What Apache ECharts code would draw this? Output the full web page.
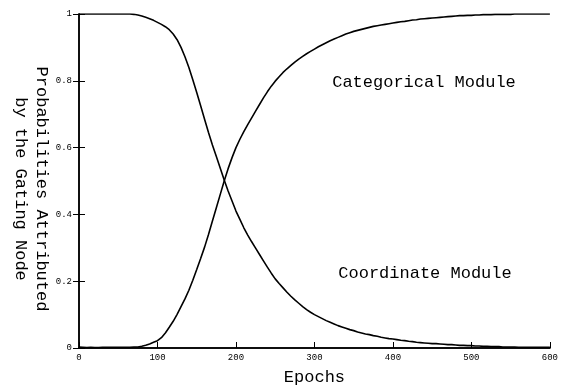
<!DOCTYPE html>
<html>
<head>
<meta charset="utf-8">
<script src="https://cdn.jsdelivr.net/npm/echarts@6/dist/echarts.min.js"></script>
<style>
  html, body { margin: 0; padding: 0; background: #fff; }
  #chart { width: 561px; height: 391px; }
</style>
</head>
<body>
<div id="chart"></div>
<script>
// epochs sampled every 5
const epochs = [];
for (let e = 0; e <= 600; e += 5) epochs.push(e);

// Coordinate Module (falling curve)
const coordinate = [
  1, 1, 1, 1, 1, 1, 1, 1, 1, 1, 1, 1, 1, 1, 0.999, 0.997, 0.994, 0.99, 0.986, 0.981,
  0.975, 0.969, 0.962, 0.953, 0.94, 0.923, 0.9, 0.872, 0.84, 0.803, 0.765, 0.725, 0.685, 0.645, 0.608, 0.573,
  0.538, 0.503, 0.47, 0.44, 0.41, 0.385, 0.36, 0.338, 0.318, 0.299, 0.28, 0.261, 0.242, 0.224,
  0.207, 0.193, 0.18, 0.167, 0.155, 0.144, 0.134, 0.124, 0.115, 0.107, 0.1, 0.094, 0.088, 0.082,
  0.077, 0.072, 0.067, 0.063, 0.059, 0.055, 0.052, 0.048, 0.045, 0.042, 0.04, 0.037, 0.035, 0.032,
  0.03, 0.028, 0.027, 0.025, 0.023, 0.022, 0.02, 0.019, 0.017, 0.016, 0.015, 0.014, 0.013, 0.013,
  0.012, 0.011, 0.01, 0.01, 0.009, 0.008, 0.008, 0.007, 0.007, 0.006, 0.006, 0.005, 0.005, 0.004,
  0.004, 0.004, 0.003, 0.003, 0.003, 0.003, 0.002, 0.002, 0.002, 0.002, 0.002, 0.002, 0.002, 0.002, 0.002
];

// Categorical Module (rising curve)
const categorical = [
  0.003, 0.002, 0.001, 0.002, 0.001, 0.001, 0.002, 0.002, 0.002, 0.002, 0.002, 0.002, 0.002, 0.002,
  0.003, 0.003, 0.005, 0.008, 0.012, 0.017, 0.022, 0.031, 0.045, 0.062, 0.08, 0.101, 0.124, 0.147,
  0.173, 0.203, 0.235, 0.268, 0.302, 0.34, 0.38, 0.42, 0.46, 0.5, 0.537, 0.57, 0.6, 0.625, 0.648, 0.669,
  0.689, 0.709, 0.729, 0.749, 0.767, 0.784, 0.799, 0.812, 0.825, 0.836, 0.846, 0.856, 0.865, 0.873,
  0.881, 0.888, 0.895, 0.902, 0.908, 0.914, 0.92, 0.925, 0.93, 0.935, 0.94, 0.944, 0.948, 0.951,
  0.954, 0.957, 0.96, 0.963, 0.965, 0.967, 0.969, 0.971, 0.973, 0.975, 0.977, 0.978, 0.98, 0.982,
  0.983, 0.985, 0.986, 0.987, 0.988, 0.989, 0.99, 0.991, 0.992, 0.993, 0.994, 0.995, 0.995, 0.996,
  0.996, 0.997, 0.997, 0.998, 0.998, 0.998, 0.999, 0.999, 0.999, 0.999, 0.999, 1, 1, 1, 1, 1, 1, 1, 1, 1, 1
];

const font = '"Liberation Mono", "DejaVu Sans Mono", monospace';

const chart = echarts.init(document.getElementById('chart'));
const axisLine = { show: true, lineStyle: { color: '#000', width: 1.5 } };
const option = {
  animation: false,
  grid: { left: 79, right: 6, top: 14, bottom: 43 },
  xAxis: [
    {
      type: 'value', min: 0, max: 600, interval: 100,
      name: 'Epochs', nameLocation: 'middle', nameGap: 21,
      nameTextStyle: { fontFamily: font, fontSize: 17, color: '#000' },
      axisLine: axisLine,
      axisTick: { inside: true, length: 6, lineStyle: { color: '#000' } },
      axisLabel: { fontFamily: font, fontSize: 9, color: '#000', margin: 5 },
      splitLine: { show: false }
    },
    {
      type: 'value', min: 0, max: 600, position: 'top',
      axisLine: axisLine, axisTick: { show: false }, axisLabel: { show: false },
      splitLine: { show: false }
    }
  ],
  yAxis: [
    {
      type: 'value', min: 0, max: 1, interval: 0.2,
      axisLine: axisLine,
      axisTick: { inside: true, length: 6, lineStyle: { color: '#000' } },
      axisLabel: { fontFamily: font, fontSize: 9, color: '#000', margin: 7 },
      splitLine: { show: false }
    },
    {
      type: 'value', min: 0, max: 1, interval: 0.2, position: 'right',
      axisLine: axisLine,
      axisTick: { inside: true, length: 6, lineStyle: { color: '#000' } },
      axisLabel: { show: false },
      splitLine: { show: false }
    }
  ],
  series: [
    {
      name: 'Coordinate Module', type: 'line', showSymbol: false,
      data: epochs.map((e, i) => [e, coordinate[i]]),
      lineStyle: { color: '#000', width: 1.6 }
    },
    {
      name: 'Categorical Module', type: 'line', showSymbol: false,
      data: epochs.map((e, i) => [e, categorical[i]]),
      lineStyle: { color: '#000', width: 1.6 }
    }
  ],
  graphic: [
    {
      type: 'text', x: 424, y: 82,
      style: { text: 'Categorical Module', font: '17px ' + font, fill: '#000', align: 'center', verticalAlign: 'middle' }
    },
    {
      type: 'text', x: 425, y: 273,
      style: { text: 'Coordinate Module', font: '17px ' + font, fill: '#000', align: 'center', verticalAlign: 'middle' }
    },
    {
      type: 'text', x: 41, y: 189, rotation: -Math.PI / 2,
      style: { text: 'Probabilities Attributed', font: '17px ' + font, fill: '#000', align: 'center', verticalAlign: 'middle' }
    },
    {
      type: 'text', x: 20, y: 189, rotation: -Math.PI / 2,
      style: { text: 'by the Gating Node', font: '17px ' + font, fill: '#000', align: 'center', verticalAlign: 'middle' }
    }
  ]
};
chart.setOption(option);
</script>
</body>
</html>
